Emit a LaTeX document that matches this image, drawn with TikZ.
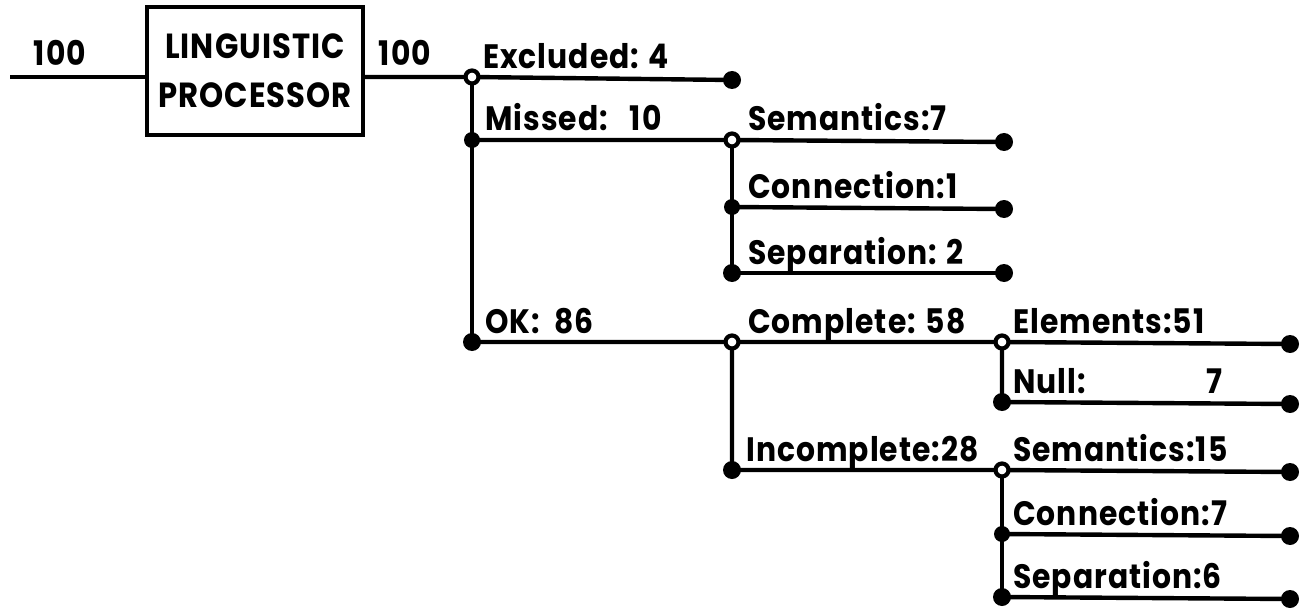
\documentclass[tikz,border=0pt]{standalone}
\usepackage{fontspec}
\setmainfont{Poppins}[LetterSpace=3,FakeStretch=0.88]
\usetikzlibrary{backgrounds}
\begin{document}
\begin{tikzpicture}[x=1bp,y=-1bp,
  wire/.style={line width=4.4bp},
  lbl/.style={anchor=base west,inner sep=0pt,font=\fontsize{34}{34}\selectfont\bfseries},
  jopen/.style={circle,draw,fill=white,line width=4.2bp,minimum size=13bp,inner sep=0pt},
  jmid/.style={circle,fill,minimum size=16bp,inner sep=0pt},
  jend/.style={circle,fill,minimum size=18bp,inner sep=0pt},
  procbox/.style={draw,line width=3.2bp,minimum width=216bp,minimum height=128bp,
    align=center,inner sep=0pt,font=\fontsize{35}{49}\selectfont\bfseries}]
\useasboundingbox (0,0) rectangle (1307,610);

% processor block with its input and output
\coordinate (in) at (10,77);
\node[procbox] (lp) at (255,71) {LINGUISTIC\\PROCESSOR};
\node[lbl,anchor=base] (nin) at (60,66) {100};
\node[lbl,anchor=base] (nout) at (405,66) {100};

% first split
\node[jopen] (j0) at (472,77) {};
\node[jmid]  (j1) at (472,140) {};
\node[jend]  (j2) at (472,342) {};
\node[jend]  (e0) at (732,80) {};

% missed branch
\node[jopen] (k0) at (732,140) {};
\node[jmid]  (k1) at (732,207) {};
\node[jend]  (k2) at (732,273) {};
\node[jend]  (e1) at (1004,142) {};
\node[jend]  (e2) at (1004,209) {};
\node[jend]  (e3) at (1004,273) {};

% ok branch
\node[jopen] (k3) at (732,342) {};
\node[jend]  (k4) at (732,470) {};

% complete branch
\node[jopen] (m0) at (1002,342) {};
\node[jend]  (m1) at (1002,402) {};
\node[jend]  (e4) at (1290,344) {};
\node[jend]  (e5) at (1290,404) {};

% incomplete branch
\node[jopen] (m2) at (1002,470) {};
\node[jmid]  (m3) at (1002,534) {};
\node[jend]  (m4) at (1002,597) {};
\node[jend]  (e6) at (1290,472) {};
\node[jend]  (e7) at (1290,536) {};
\node[jend]  (e8) at (1290,599) {};

% labels
\node[lbl] (t0) at (483,69) {Excluded: 4};
\node[lbl] (t1) at (485,131) {Missed:\ \ \ 10};
\node[lbl] (t2) at (485,333) {OK:\ \ 86};
\node[lbl] (t3) at (748,131) {Semantics:7};
\node[lbl] (t4) at (748,198) {Connection:1};
\node[lbl] (t5) at (748,264) {Separation: 2};
\node[lbl] (t6) at (748,333) {Complete: 58};
\node[lbl] (t7) at (746,461) {Incomplete:28};
\node[lbl] (t8) at (1013,333) {Elements:51};
\node[lbl,text width=209bp] (t9) at (1013,393) {Null:\hfill7};
\node[lbl] (t10) at (1013,461) {Semantics:15};
\node[lbl] (t11) at (1013,525) {Connection:7};
\node[lbl] (t12) at (1013,588) {Separation:6};

\begin{scope}[on background layer]
  \draw[wire] (in) -- (in -| lp.west);
  \draw[wire] (lp.east |- j0) -- (j0.center) -- (e0.center);
  \draw[wire] (j0.center) -- (j1.center) -- (j2.center);
  \draw[wire] (j1.center) -- (k0.center) -- (e1.center);
  \draw[wire] (k0.center) -- (k1.center) -- (k2.center);
  \draw[wire] (k1.center) -- (e2.center);
  \draw[wire] (k2.center) -- (e3.center);
  \draw[wire] (j2.center) -- (k3.center) -- (m0.center) -- (e4.center);
  \draw[wire] (k3.center) -- (k4.center) -- (m2.center) -- (e6.center);
  \draw[wire] (m0.center) -- (m1.center) -- (e5.center);
  \draw[wire] (m2.center) -- (m3.center) -- (m4.center);
  \draw[wire] (m3.center) -- (e7.center);
  \draw[wire] (m4.center) -- (e8.center);
\end{scope}
\end{tikzpicture}
\end{document}
